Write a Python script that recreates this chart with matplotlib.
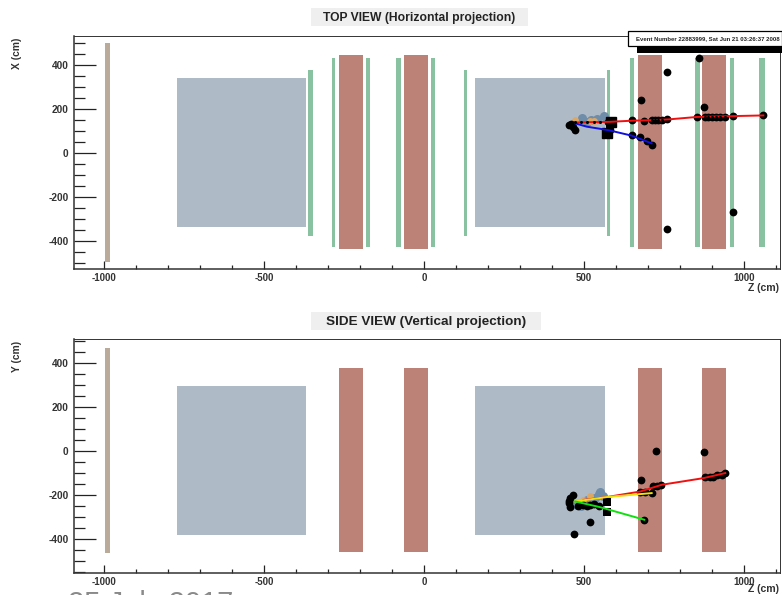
import matplotlib
matplotlib.use("Agg")
import matplotlib.pyplot as plt
from matplotlib.patches import Rectangle
from matplotlib.ticker import MultipleLocator, FixedLocator

plt.rcParams['font.family'] = ['Liberation Sans', 'DejaVu Sans']
plt.rcParams['axes.unicode_minus'] = False

W, H = 782, 595
TAN, SLATE, BRICK, GREEN = '#b9aa9a', '#aebbc6', '#bd8277', '#88c2a0'

# detector blocks (z0, z1, lo, hi) in cm
top_tan = [(-997, -982, -495, 500)]
top_slate = [(-772, -369, -336, 340), (158, 566, -336, 340)]
top_brick = [(-266, -191, -436, 445), (-62, 12, -436, 445), (669, 744, -436, 445), (869, 944, -436, 445)]
top_green = [(-362, -347, -377, 377), (-287, -277, -427, 432), (-181, -169, -427, 432),
             (-87, -72, -427, 432), (22, 34, -427, 432), (125, 135, -377, 377),
             (570, 581, -377, 377), (644, 655, -427, 432), (847, 862, -427, 432),
             (957, 968, -427, 432), (1047, 1064, -427, 432)]
side_tan = [(-997, -982, -463, 467)]
side_slate = [(-772, -369, -381, 295), (158, 566, -381, 295)]
side_brick = [(-266, -191, -458, 376), (-62, 12, -458, 376), (669, 744, -458, 376), (869, 944, -458, 376)]

# top view tracks and hits
top_red_z = [472, 581, 649, 722, 764, 852, 967, 1060]
top_red_x = [139, 142, 147, 150, 153, 164, 168, 171]
top_blue_z = [472, 508, 576, 649, 711]
top_blue_x = [135, 120, 104, 79, 44]
top_steel_z = [493, 540, 562, 508, 520]
top_steel_x = [158, 153, 170, 142, 150]
top_orange_z = [472, 517, 530]
top_orange_x = [150, 147, 145]
top_hit_z = [458, 453, 464, 472, 576, 583, 571, 581, 649, 649, 675, 696, 711, 688, 678, 759, 760,
             860, 874, 852, 965, 1060, 711, 720, 730, 743, 878, 888, 900, 912, 925, 940, 966, 759]
top_hit_x = [130, 127, 120, 105, 142, 127, 89, 104, 150, 82, 71, 56, 36, 144, 241, 368, 154,
             430, 211, 164, 168, 171, 150, 150, 150, 152, 163, 163, 164, 165, 165, 166, -268, -345]
top_dash_z = [472, 490, 510, 530, 550, 711, 720, 730, 743, 878, 888, 900, 912, 925, 940]
top_dash_x = [139, 140, 140, 141, 141, 150, 150, 150, 152, 163, 163, 164, 165, 165, 166]

# side view tracks and hits
side_red_z = [498, 571, 675, 743, 873, 941]
side_red_y = [-223, -210, -185, -154, -124, -101]
side_yellow_z = [472, 571, 711]
side_yellow_y = [-230, -210, -192]
side_green_z = [472, 550, 688]
side_green_y = [-230, -256, -313]
side_steel_z = [550, 560, 477, 508, 534, 490, 545]
side_steel_y = [-185, -207, -245, -223, -215, -250, -195]
side_orange_z = [519, 498]
side_orange_y = [-204, -222]
side_hit_z = [467, 519, 678, 725, 874, 688, 740, 715, 727, 711, 675, 691, 878, 894, 904, 915, 930, 941,
              464, 456, 453, 456, 498, 519, 482, 548, 530, 453, 508]
side_hit_y = [-379, -323, -133, 0, -7, -313, -154, -162, -162, -192, -185, -185, -121, -121, -117, -109, -109, -101,
              -200, -215, -238, -256, -248, -245, -250, -250, -240, -226, -250]
side_sq_z = [570, 570]
side_sq_y = [-233, -279]

fig = plt.figure(figsize=(W / 100, H / 100), dpi=100, facecolor='white')


def make_axes(top_px, bottom_px, ylim, ylabel, zlabel_offset):
    ax = fig.add_axes([74 / W, 1 - bottom_px / H, (780 - 74) / W, (bottom_px - top_px) / H])
    ax.set_xlim(-1094, 1112)
    ax.set_ylim(*ylim)
    ax.xaxis.set_major_locator(FixedLocator([-1000, -500, 0, 500, 1000]))
    ax.xaxis.set_minor_locator(MultipleLocator(100))
    ax.yaxis.set_major_locator(FixedLocator([-400, -200, 0, 200, 400]))
    ax.yaxis.set_minor_locator(MultipleLocator(50))
    ax.tick_params(axis='x', which='major', direction='in', length=5.8, width=0.9, color='#222222',
                   labelsize=7, pad=3)
    ax.tick_params(axis='x', which='minor', direction='in', length=2.9, width=0.9, color='#222222')
    ax.tick_params(axis='y', which='major', direction='in', length=16, width=0.9, color='#222222',
                   labelsize=7.3, pad=4)
    ax.tick_params(axis='y', which='minor', direction='in', length=8, width=0.9, color='#222222')
    for lab in ax.get_xticklabels() + ax.get_yticklabels():
        lab.set_fontweight('bold')
        lab.set_color('#333333')
    ax.spines['bottom'].set_linewidth(1.1)
    ax.spines['left'].set_linewidth(1.1)
    ax.spines['top'].set_linewidth(0.7)
    ax.spines['right'].set_linewidth(0.7)
    for s in ax.spines.values():
        s.set_color('#333333')
    fig.text(17.5 / W, 1 - (top_px + 17) / H, ylabel, rotation=90, ha='center', va='center',
             fontsize=7.4, fontweight='bold', color='#333333')
    fig.text(764 / W, 1 - (bottom_px + zlabel_offset) / H, 'Z (cm)', ha='center', va='center',
             fontsize=7.6, fontweight='bold', color='#333333')
    return ax


def blocks(ax, items, color, z=2):
    for z0, z1, lo, hi in items:
        ax.add_patch(Rectangle((z0, lo), z1 - z0, hi - lo, facecolor=color, edgecolor='none', zorder=z))


def title(text, x0, x1, y0, y1, size):
    fig.patches.append(Rectangle((x0 / W, 1 - y1 / H), (x1 - x0) / W, (y1 - y0) / H,
                                 transform=fig.transFigure, facecolor='#efefef', edgecolor='none'))
    fig.text((x0 + x1) / 2 / W, 1 - ((y0 + y1) / 2 + 1.5) / H, text, ha='center', va='center',
             fontsize=size, fontweight='bold', color='#222222')


def dots(ax, z, v, color, size=5.6, marker='o', zo=6):
    ax.plot(z, v, ls='none', marker=marker, ms=size, mfc=color, mec=color, mew=0, zorder=zo)


# ---- top view
ax1 = make_axes(36, 269, (-527, 532), 'X (cm)', 19)
blocks(ax1, top_tan, TAN)
blocks(ax1, top_slate, SLATE)
blocks(ax1, top_brick, BRICK)
blocks(ax1, top_green, GREEN)
dots(ax1, top_steel_z, top_steel_x, '#6f8ca8', 6.5, zo=4)
dots(ax1, top_orange_z, top_orange_x, '#dca868', 5, zo=4)
dots(ax1, top_hit_z, top_hit_x, 'black', zo=5)
ax1.plot(top_red_z, top_red_x, color='#f01010', lw=1.4, zorder=6)
ax1.plot(top_blue_z, top_blue_x, color='#1010e0', lw=1.4, zorder=6)
dots(ax1, top_dash_z, top_dash_x, 'black', 2.2, zo=7)
ax1.plot([571, 583], [89, 142], ls='none', marker='s', ms=6.5, color='black', zorder=5)

# ---- side view
ax2 = make_axes(339, 573, (-555, 508), 'Y (cm)', 16.5)
blocks(ax2, side_tan, TAN)
blocks(ax2, side_slate, SLATE)
blocks(ax2, side_brick, BRICK)
dots(ax2, side_steel_z, side_steel_y, '#6f8ca8', 6.5, zo=4)
dots(ax2, side_orange_z, side_orange_y, '#dca868', 5, zo=4)
dots(ax2, side_hit_z, side_hit_y, 'black', zo=5)
ax2.plot(side_red_z, side_red_y, color='#f01010', lw=1.4, zorder=6)
ax2.plot(side_yellow_z, side_yellow_y, color='#f0e010', lw=1.4, zorder=7)
ax2.plot(side_green_z, side_green_y, color='#10e010', lw=1.4, zorder=7)
dots(ax2, side_sq_z, side_sq_y, 'black', 6, marker='s')

title('TOP VIEW (Horizontal projection)', 311, 528, 8, 26, 8.7)
title('SIDE VIEW (Vertical projection)', 311, 541, 312, 330, 9.7)

# event box with its shadow
fig.patches.append(Rectangle((637 / W, 1 - 53 / H), (782 - 637) / W, 22 / H, transform=fig.transFigure,
                             facecolor='black', edgecolor='none', zorder=10))
fig.patches.append(Rectangle((628 / W, 1 - 46 / H), (782 - 628) / W, 15 / H, transform=fig.transFigure,
                             facecolor='white', edgecolor='black', linewidth=0.9, zorder=11))
fig.text(636 / W, 1 - 38.5 / H, 'Event Number 22883999, Sat Jun 21 03:26:37 2008', ha='left', va='center',
         fontsize=4.3, fontweight='bold', color='#222222', zorder=12)

# date clipped by the lower edge of the page
fig.text(68 / W, 1 - 590.5 / H, '25 July 2017', ha='left', va='top', fontsize=21, color='#8a8a8a')

fig.savefig('out.png', dpi=100, facecolor='white')
